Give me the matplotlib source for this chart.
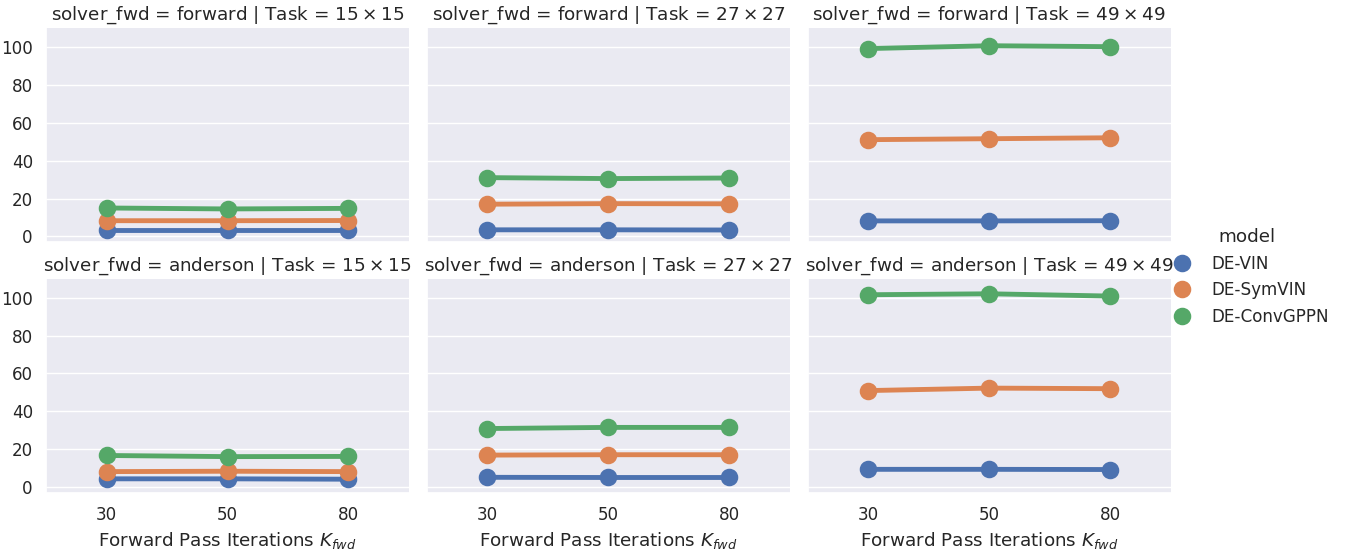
import numpy as np
import pandas as pd
import seaborn as sns
import matplotlib
matplotlib.use("Agg")
import matplotlib.pyplot as plt

solvers = ["forward", "anderson"]
tasks = ["15", "27", "49"]
models = ["DE-VIN", "DE-SymVIN", "DE-ConvGPPN"]
iters = [30, 50, 80]

# runtime[solver][task][model] -> values at iters
runtime = {
    "forward": {
        "15": {"DE-VIN": [3.2, 3.2, 3.2], "DE-SymVIN": [8.3, 8.3, 8.4], "DE-ConvGPPN": [15.0, 14.5, 14.8]},
        "27": {"DE-VIN": [3.5, 3.5, 3.4], "DE-SymVIN": [17.0, 17.3, 17.2], "DE-ConvGPPN": [31.0, 30.5, 30.8]},
        "49": {"DE-VIN": [8.2, 8.2, 8.3], "DE-SymVIN": [51.0, 51.5, 52.0], "DE-ConvGPPN": [99.0, 100.5, 100.0]},
    },
    "anderson": {
        "15": {"DE-VIN": [4.5, 4.5, 4.3], "DE-SymVIN": [8.3, 8.5, 8.3], "DE-ConvGPPN": [16.8, 16.2, 16.3]},
        "27": {"DE-VIN": [5.3, 5.2, 5.2], "DE-SymVIN": [17.0, 17.2, 17.2], "DE-ConvGPPN": [31.0, 31.6, 31.6]},
        "49": {"DE-VIN": [9.5, 9.5, 9.4], "DE-SymVIN": [51.0, 52.3, 52.0], "DE-ConvGPPN": [101.5, 102.0, 100.8]},
    },
}

rows = []
for s in solvers:
    for t in tasks:
        for m in models:
            for k, v in zip(iters, runtime[s][t][m]):
                rows.append({"solver_fwd": s, "Task": t, "model": m, "K": k, "time": v})
df = pd.DataFrame(rows)

sns.set_theme(style="darkgrid", font_scale=1.1)
g = sns.catplot(data=df, x="K", y="time", hue="model", row="solver_fwd", col="Task",
                kind="point", errorbar=None, height=2.7, aspect=1.7,
                row_order=solvers, col_order=tasks, hue_order=models,
                linewidth=3.5, markersize=10)
g.figure.set_size_inches(13.58, 5.54)
for i, s in enumerate(solvers):
    for j, t in enumerate(tasks):
        ax = g.axes[i, j]
        ax.set_title(f"solver_fwd = {s} | Task = ${t}\\times{t}$")
        ax.set_ylim(-3, 110)
        ax.set_yticks([0, 20, 40, 60, 80, 100])
g.set_axis_labels("Forward Pass Iterations $K_{fwd}$", "Backward Pass Runtime\\$")
g.figure.subplots_adjust(left=0.034, right=0.862, top=0.95, bottom=0.11, hspace=0.17, wspace=0.05)
sns.move_legend(g, "center right", bbox_to_anchor=(0.99, 0.5))
for h in g._legend.legend_handles:
    h.set_linestyle("None")
g.figure.savefig("out.png", dpi=100)
